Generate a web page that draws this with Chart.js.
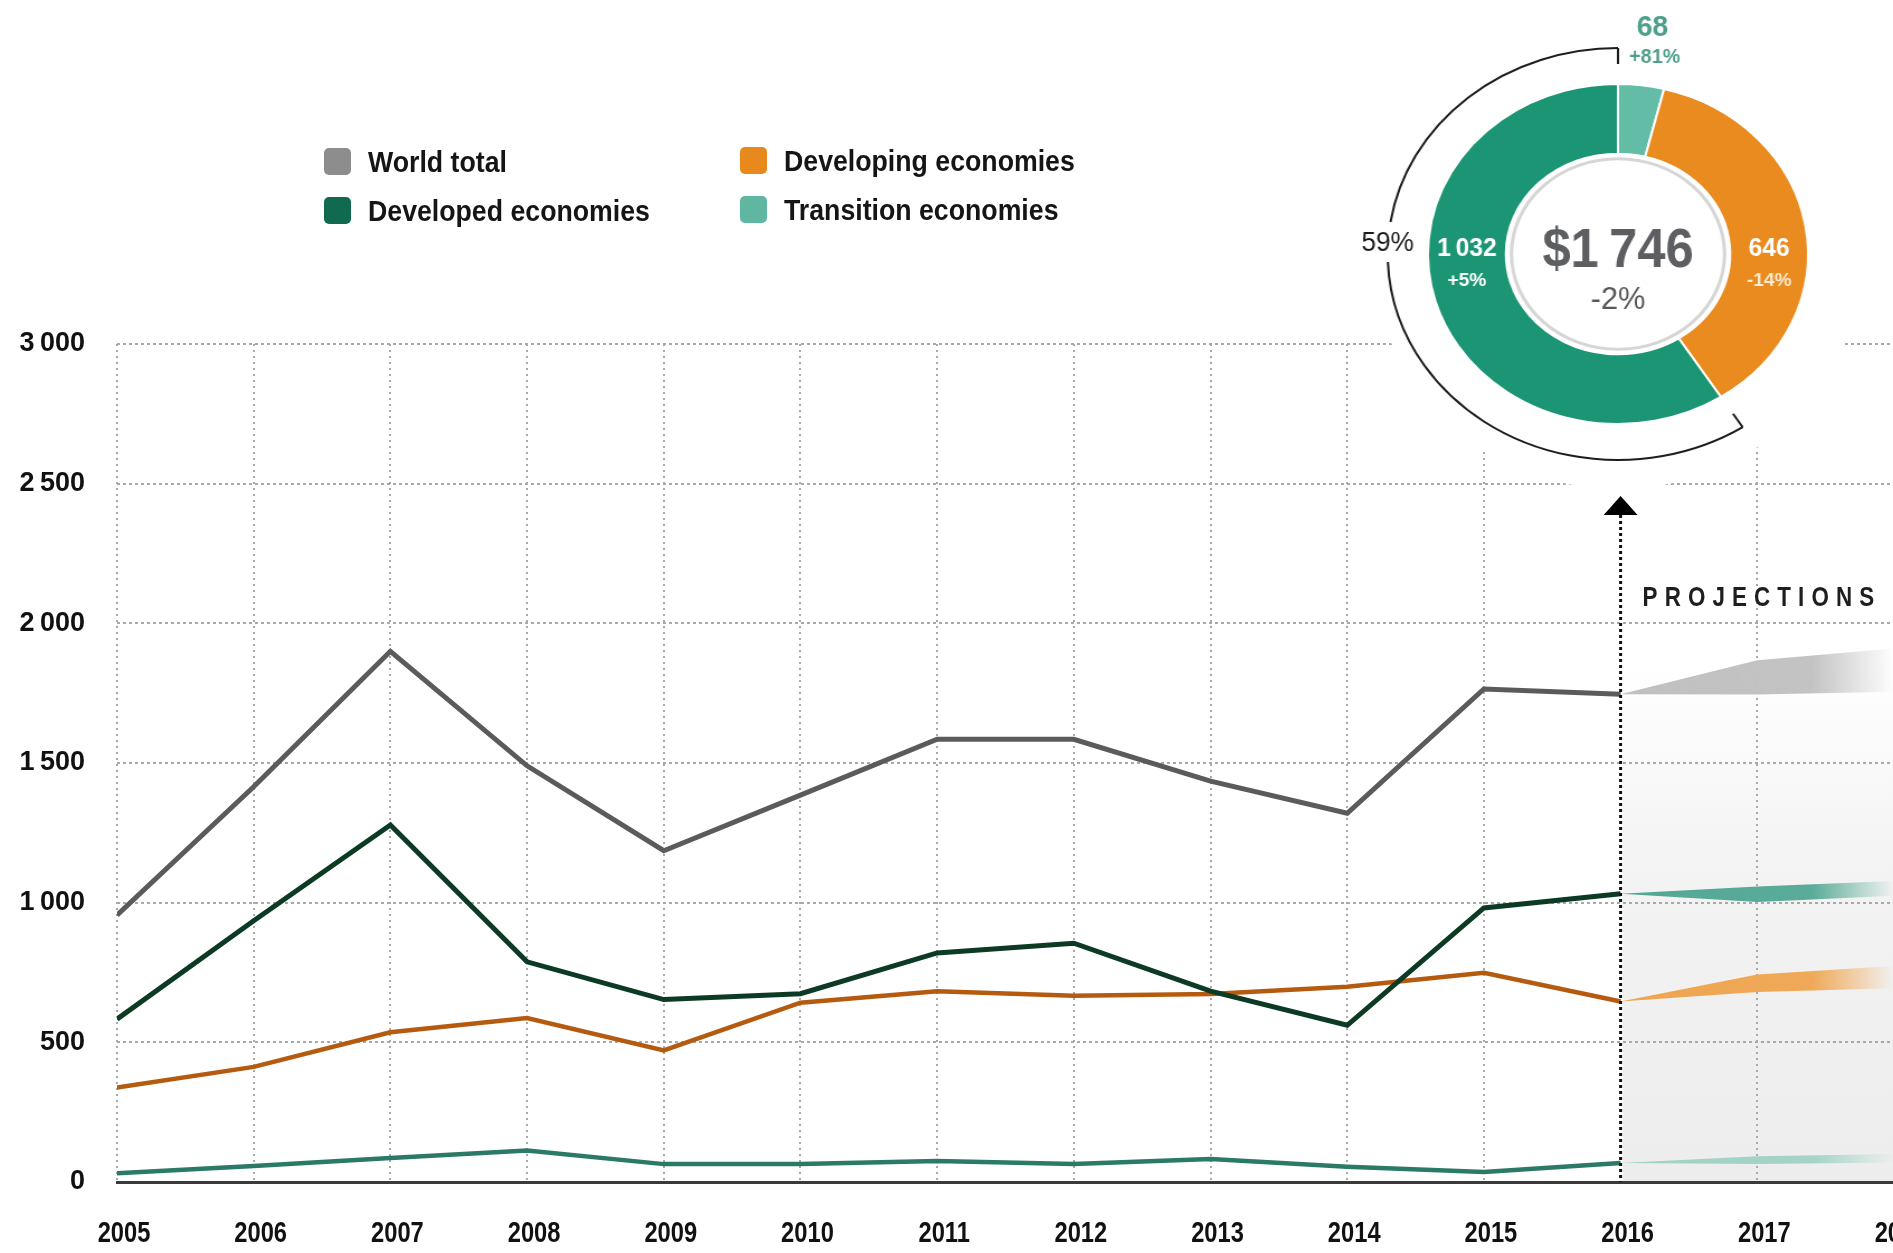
<!DOCTYPE html>
<html lang="en">
<head>
    <meta charset="UTF-8">
    <title>FDI inflows by group of economies</title>
    <script src="https://cdn.jsdelivr.net/npm/chart.js"></script>
    <style>
        html, body {
            margin: 0;
            padding: 0;
            background: #fff;
        }
        body {
            width: 1893px;
            height: 1253px;
            overflow: hidden;
            position: relative;
        }
        #lineChart {
            position: absolute;
            left: 0;
            top: 0;
        }
        /* the ring is drawn round, then widened a little */
        #donutBox {
            position: absolute;
            left: 1338px;
            top: 4px;
            width: 560px;
            height: 500px;
            transform: scaleX(1.118);
            transform-origin: 280px 250px;
        }
        .legend-item {
            position: absolute;
            height: 27px;
            display: flex;
            align-items: center;
        }
        .swatch {
            width: 27px;
            height: 27px;
            border-radius: 5px;
            flex: none;
        }
        .legend-item .label {
            margin-left: 17px;
            font-family: 'Liberation Sans', Arial, sans-serif;
            font-weight: bold;
            font-size: 30px;
            color: #151515;
            white-space: nowrap;
            transform: scaleX(0.89);
            transform-origin: left center;
        }
    </style>
</head>
<body>

<canvas id="lineChart" width="1960" height="1253"></canvas>

<div class="legend-item" style="left:324px; top:148px">
    <span class="swatch" style="background:#8d8d8d"></span><span class="label">World total</span>
</div>
<div class="legend-item" style="left:324px; top:197px">
    <span class="swatch" style="background:#0f6a4f"></span><span class="label">Developed economies</span>
</div>
<div class="legend-item" style="left:740px; top:147px">
    <span class="swatch" style="background:#e8891d"></span><span class="label">Developing economies</span>
</div>
<div class="legend-item" style="left:740px; top:196px">
    <span class="swatch" style="background:#60b7a1"></span><span class="label">Transition economies</span>
</div>

<div id="donutBox"><canvas id="donutChart" width="560" height="500"></canvas></div>

<script>
    const SANS = "'Liberation Sans', Arial, sans-serif";

    // FDI inflows, billions of dollars
    const years = [2005, 2006, 2007, 2008, 2009, 2010, 2011, 2012, 2013, 2014, 2015, 2016];
    const worldTotal = [955, 1415, 1900, 1490, 1186, 1385, 1585, 1585, 1435, 1320, 1765, 1746];
    const developed = [583, 935, 1278, 788, 653, 674, 820, 855, 683, 561, 981, 1032];
    const developing = [338, 412, 536, 587, 471, 642, 683, 667, 673, 699, 749, 646];
    const transition = [31, 57, 86, 113, 64, 64, 75, 64, 82, 55, 36, 68];

    // projection ranges
    const projYears = [2016, 2017, 2018];
    const worldLow = [1746, 1745, 1755];
    const worldHigh = [1746, 1868, 1910];
    const developedLow = [1032, 1002, 1025];
    const developedHigh = [1032, 1058, 1078];
    const developingLow = [646, 680, 694];
    const developingHigh = [646, 743, 773];
    const transitionLow = [68, 64, 70];
    const transitionHigh = [68, 92, 100];

    // 2016 split
    const shareLabels = ['Transition economies', 'Developing economies', 'Developed economies'];
    const shareValues = [68, 646, 1032];
    const shareChanges = ['+81%', '-14%', '+5%'];
    const totalChange = '-2%';

    const yTicks = [0, 500, 1000, 1500, 2000, 2500, 3000];
    const projectionStart = 2016;

    function groupDigits(v) {
        return v >= 1000 ? Math.floor(v / 1000) + '\u2009' + String(v % 1000).padStart(3, '0') : String(v);
    }

    function toPoints(xs, ys) {
        return xs.map((x, i) => ({x: x, y: ys[i]}));
    }

    // condensed lettering: squeeze a regular face sideways
    function narrowText(ctx, text, x, y, font, k) {
        ctx.save();
        ctx.font = font;
        ctx.translate(x, y);
        ctx.scale(k, 1);
        ctx.fillText(text, 0, 0);
        ctx.restore();
    }

    function fade(chart, rgb) {
        const area = chart.chartArea;
        if (!area) return 'rgb(' + rgb + ')';
        const x0 = chart.scales.x.getPixelForValue(projectionStart);
        const g = chart.ctx.createLinearGradient(x0, 0, area.right, 0);
        g.addColorStop(0, 'rgb(' + rgb + ')');
        g.addColorStop(0.7, 'rgba(' + rgb + ',0.95)');
        g.addColorStop(1, 'rgba(' + rgb + ',0)');
        return g;
    }

    function line(label, values, color, width) {
        return {
            label: label,
            data: toPoints(years, values),
            borderColor: color,
            borderWidth: width,
            pointRadius: 0,
            tension: 0,
            fill: false
        };
    }

    function band(low, high, rgb) {
        return [
            {data: toPoints(projYears, low), borderWidth: 0, pointRadius: 0, fill: false},
            {
                data: toPoints(projYears, high), borderWidth: 0, pointRadius: 0, fill: '-1',
                backgroundColor: ctx => fade(ctx.chart, rgb)
            }
        ];
    }

    // grey wash behind the projection years, fading out towards the top
    const projectionShade = {
        id: 'projectionShade',
        beforeDraw(chart) {
            const {ctx, chartArea} = chart;
            const x0 = chart.scales.x.getPixelForValue(projectionStart);
            const top = 660;
            const g = ctx.createLinearGradient(0, top, 0, chartArea.bottom);
            g.addColorStop(0, 'rgba(244,244,244,0)');
            g.addColorStop(0.4, 'rgba(243,243,243,1)');
            g.addColorStop(1, 'rgba(237,237,237,1)');
            ctx.save();
            ctx.fillStyle = g;
            ctx.fillRect(x0 + 2, top, chart.width - x0, chartArea.bottom - top);
            ctx.restore();
        }
    };

    // dotted divider, arrow and caption at the first projected year
    const projectionMarker = {
        id: 'projectionMarker',
        afterDatasetsDraw(chart) {
            const {ctx, chartArea} = chart;
            const x0 = chart.scales.x.getPixelForValue(projectionStart);
            ctx.save();
            ctx.fillStyle = '#fff';
            ctx.fillRect(x0 - 42, 470, 84, 44);

            ctx.strokeStyle = '#111';
            ctx.lineWidth = 3;
            ctx.setLineDash([3, 3]);
            ctx.beginPath();
            ctx.moveTo(x0, 515);
            ctx.lineTo(x0, chartArea.bottom);
            ctx.stroke();
            ctx.setLineDash([]);

            ctx.fillStyle = '#000';
            ctx.beginPath();
            ctx.moveTo(x0, 496);
            ctx.lineTo(x0 - 17, 515);
            ctx.lineTo(x0 + 17, 515);
            ctx.closePath();
            ctx.fill();

            const font = 'bold 28px ' + SANS;
            ctx.font = font;
            ctx.fillStyle = '#1e1e1e';
            ctx.textBaseline = 'middle';
            let x = x0 + 22;
            for (const ch of 'PROJECTIONS') {
                narrowText(ctx, ch, x, 598, font, 0.8);
                x += ctx.measureText(ch).width * 0.8 + 7.1;
            }
            ctx.restore();
        }
    };

    // year labels in a condensed cut, one per x tick
    const yearLabels = {
        id: 'yearLabels',
        afterDraw(chart) {
            const {ctx} = chart;
            const sx = chart.scales.x;
            ctx.save();
            ctx.fillStyle = '#111';
            ctx.textAlign = 'center';
            ctx.textBaseline = 'middle';
            sx.ticks.forEach(t => {
                narrowText(ctx, String(t.value), sx.getPixelForValue(t.value) + 7, 1234, 'bold 30px ' + SANS, 0.79);
            });
            ctx.restore();
        }
    };

    new Chart(document.getElementById('lineChart'), {
        type: 'line',
        data: {
            datasets: [
                line('World total', worldTotal, '#5b5b5c', 5),
                line('Developed economies', developed, '#0c3a23', 5),
                line('Developing economies', developing, '#b45b10', 4.5),
                line('Transition economies', transition, '#2b7a67', 4.5),
                ...band(worldLow, worldHigh, '192,192,192'),
                ...band(developedLow, developedHigh, '82,168,147'),
                ...band(developingLow, developingHigh, '239,165,80'),
                ...band(transitionLow, transitionHigh, '160,210,196')
            ]
        },
        options: {
            responsive: false,
            animation: false,
            events: [],
            layout: {padding: {top: 344, right: 66, bottom: 0, left: 0}},
            plugins: {
                legend: {display: false},
                tooltip: {enabled: false}
            },
            scales: {
                x: {
                    type: 'linear',
                    min: 2005,
                    max: 2018,
                    afterFit: s => { s.height = 71; },
                    grid: {
                        color: c => (c.tick && c.tick.value === projectionStart) ? 'rgba(0,0,0,0)' : '#a9a9a9',
                        lineWidth: 2,
                        drawTicks: false
                    },
                    border: {display: true, color: '#3a3a3a', width: 3, dash: [2, 4]},
                    ticks: {stepSize: 1, display: false}
                },
                y: {
                    min: 0,
                    max: 3000,
                    afterFit: s => { s.width = 117; },
                    afterBuildTicks: s => { s.ticks = yTicks.map(v => ({value: v})); },
                    grid: {color: '#a9a9a9', lineWidth: 2, drawTicks: false},
                    border: {display: false, dash: [3, 3]},
                    ticks: {
                        padding: 32,
                        color: '#111',
                        font: {family: SANS, size: 27, weight: 'bold'},
                        callback: v => groupDigits(v)
                    }
                }
            }
        },
        plugins: [projectionShade, projectionMarker, yearLabels]
    });

    // white backing so the grid does not run under the ring
    const donutBackdrop = {
        id: 'donutBackdrop',
        beforeDraw(chart) {
            const {ctx, chartArea} = chart;
            const cx = (chartArea.left + chartArea.right) / 2;
            const cy = (chartArea.top + chartArea.bottom) / 2;
            ctx.save();
            ctx.fillStyle = '#fff';
            ctx.beginPath();
            ctx.ellipse(cx, cy, 219, 235, 0, 0, Math.PI * 2);
            ctx.fill();
            ctx.restore();
        }
    };

    const donutLabels = {
        id: 'donutLabels',
        afterDraw(chart) {
            const ctx = chart.ctx;
            const arcs = chart.getDatasetMeta(0).data;
            const {x: cx, y: cy, innerRadius, outerRadius} = arcs[0];
            const mid = (innerRadius + outerRadius) / 2;
            const total = shareValues.reduce((a, b) => a + b, 0);

            ctx.save();
            // inner disc outline
            ctx.strokeStyle = '#d6d6d6';
            ctx.lineWidth = 3;
            ctx.beginPath();
            ctx.arc(cx, cy, innerRadius - 5, 0, Math.PI * 2);
            ctx.stroke();

            ctx.textAlign = 'center';
            ctx.textBaseline = 'middle';

            // centre total
            ctx.fillStyle = '#5d5e62';
            narrowText(ctx, '$' + groupDigits(total), cx, cy - 2, 'bold 56px ' + SANS, 0.81);
            ctx.fillStyle = '#58585b';
            narrowText(ctx, totalChange, cx, cy + 46, '32px ' + SANS, 0.86);

            // developed, on the left of the ring
            ctx.fillStyle = '#fff';
            narrowText(ctx, groupDigits(shareValues[2]), cx - mid, cy - 5, 'bold 25px ' + SANS, 0.88);
            narrowText(ctx, shareChanges[2], cx - mid, cy + 27, 'bold 19px ' + SANS, 0.9);

            // developing, on the right
            narrowText(ctx, groupDigits(shareValues[1]), cx + mid, cy - 5, 'bold 25px ' + SANS, 0.88);
            ctx.fillStyle = '#fdebd5';
            narrowText(ctx, shareChanges[1], cx + mid, cy + 27, 'bold 19px ' + SANS, 0.9);

            // transition, above its thin slice
            const t = arcs[0];
            const ta = (t.startAngle + t.endAngle) / 2;
            const tx = cx + 228 * Math.cos(ta) + 3;
            ctx.fillStyle = '#4d9f8b';
            narrowText(ctx, groupDigits(shareValues[0]), tx, cy + 228 * Math.sin(ta), 'bold 30px ' + SANS, 0.85);
            narrowText(ctx, shareChanges[0], tx + 2, cy - 197, 'bold 20px ' + SANS, 0.88);

            // bracket round the developed slice, with its share
            const d = arcs[2];
            const r = outerRadius + 36;
            const share = Math.round(shareValues[2] / total * 100) + '%';
            const ly = cy - 11;
            const gapA = Math.PI - Math.asin((ly + 19 - cy) / r);
            const gapB = Math.PI - Math.asin((ly - 21 - cy) / r);
            ctx.strokeStyle = '#1d1d1d';
            ctx.lineWidth = 2;
            ctx.beginPath();
            ctx.arc(cx, cy, r, d.startAngle, gapA);
            ctx.stroke();
            ctx.beginPath();
            ctx.arc(cx, cy, r, gapB, d.endAngle);
            ctx.stroke();
            [d.startAngle, d.endAngle].forEach(a => {
                ctx.beginPath();
                ctx.moveTo(cx + r * Math.cos(a), cy + r * Math.sin(a));
                ctx.lineTo(cx + (outerRadius + 20) * Math.cos(a), cy + (outerRadius + 20) * Math.sin(a));
                ctx.stroke();
            });
            ctx.fillStyle = '#1a1a1a';
            narrowText(ctx, share, cx - r, ly, '28px ' + SANS, 0.84);
            ctx.restore();
        }
    };

    new Chart(document.getElementById('donutChart'), {
        type: 'doughnut',
        data: {
            labels: shareLabels,
            datasets: [{
                data: shareValues,
                backgroundColor: ['#63bca6', '#e98b1f', '#1c9574'],
                borderColor: '#fff',
                borderWidth: 2
            }]
        },
        options: {
            responsive: false,
            animation: false,
            events: [],
            radius: 170,
            cutout: '59%',
            layout: {padding: 0},
            plugins: {
                legend: {display: false},
                tooltip: {enabled: false}
            }
        },
        plugins: [donutBackdrop, donutLabels]
    });
</script>

</body>
</html>
